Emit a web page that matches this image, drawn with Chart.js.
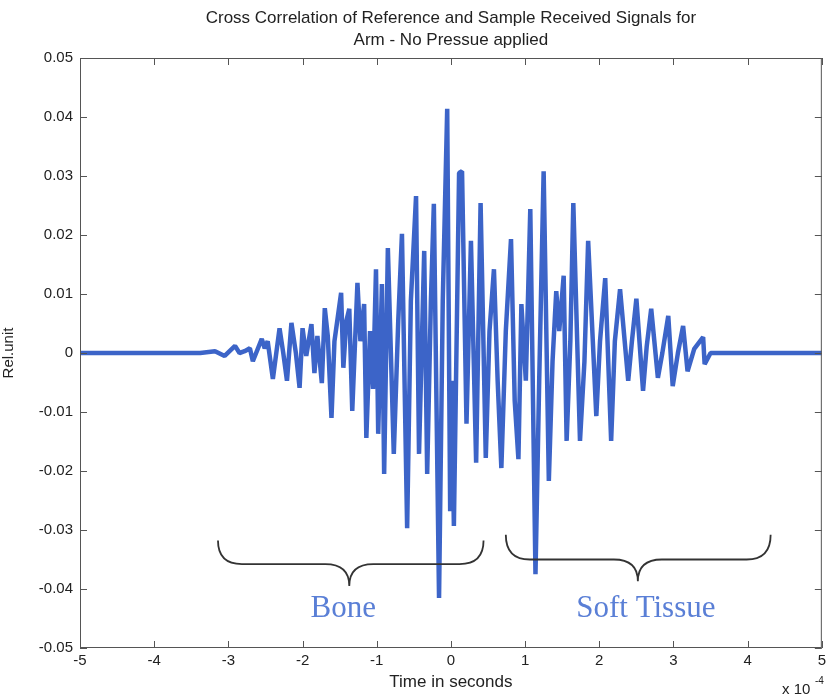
<!DOCTYPE html>
<html lang="en">
<head>
  <meta charset="UTF-8">
  <title>Cross Correlation</title>
  <script src="https://cdn.jsdelivr.net/npm/chart.js@4/dist/chart.umd.min.js"></script>
  <style>
    body { margin: 0; background: #fff; }
  </style>
</head>
<body>
  <canvas id="xcorr" width="830" height="698"></canvas>

  <script>
    // time axis in units of 1e-4 s, signal in relative units (peaks and troughs)
    const times = [
      -5.00, -3.38, -3.18, -3.05, -2.91, -2.85, -2.78, -2.71, -2.67, -2.55,
      -2.51, -2.47, -2.40, -2.31, -2.26, -2.21, -2.15, -2.09, -2.04, -2.00,
      -1.95, -1.88, -1.84, -1.80, -1.74, -1.70, -1.66, -1.61, -1.57, -1.48,
      -1.45, -1.41, -1.37, -1.33, -1.26, -1.22, -1.17, -1.14, -1.09, -1.05,
      -1.01, -0.98, -0.93, -0.90, -0.85, -0.77, -0.71, -0.66, -0.59, -0.54,
      -0.47, -0.43, -0.36, -0.32, -0.27, -0.23, -0.16, -0.11, -0.05, -0.01,
      0.01, 0.04, 0.11, 0.15, 0.21, 0.27, 0.34, 0.40, 0.47, 0.52,
      0.58, 0.63, 0.68, 0.74, 0.81, 0.86, 0.91, 0.95, 1.01, 1.07,
      1.14, 1.19, 1.25, 1.32, 1.37, 1.42, 1.46, 1.52, 1.56, 1.61,
      1.65, 1.74, 1.80, 1.85, 1.96, 2.01, 2.08, 2.16, 2.21, 2.28,
      2.39, 2.44, 2.50, 2.59, 2.64, 2.70, 2.79, 2.85, 2.93, 2.99,
      3.06, 3.13, 3.19, 3.28, 3.40, 3.42, 3.50, 5.00
    ];
    const relUnit = [
      0, 0, 0.0003, -0.0005, 0.0012, 0, 0.0003, 0.0008, -0.0014, 0.0024,
      0.0008, 0.0020, -0.0044, 0.0042, 0, -0.0047, 0.0051, 0, -0.0059, 0.0042,
      -0.0005, 0.0049, -0.0034, 0.0029, -0.0051, 0.0076, 0.0029, -0.0110, 0.0020, 0.0102,
      -0.0025, 0.0054, 0.0075, -0.0098, 0.0119, 0.0020, 0.0083, -0.0144, 0.0037, -0.0061,
      0.0142, -0.0137, 0.0117, -0.0205, 0.0178, -0.0171, 0.0054, 0.0202, -0.0297, 0.0088,
      0.0266, -0.0171, 0.0173, -0.0205, 0.0088, 0.0253, -0.0415, 0.0088, 0.0414, -0.0268,
      -0.0047, -0.0293, 0.0305, 0.0308, -0.0120, 0.0190, -0.0186, 0.0254, -0.0178, 0.0037,
      0.0142, -0.0047, -0.0195, 0.0037, 0.0193, -0.0081, -0.0180, 0.0083, -0.0047, 0.0244,
      -0.0375, -0.0047, 0.0308, -0.0217, -0.0014, 0.0105, 0.0037, 0.0131, -0.0149, 0.0020,
      0.0254, -0.0149, -0.0014, 0.0190, -0.0107, 0.0020, 0.0127, -0.0149, 0.0020, 0.0108,
      -0.0047, 0.0020, 0.0092, -0.0064, 0.0012, 0.0075, -0.0042, 0, 0.0063, -0.0056,
      0, 0.0046, -0.0031, 0.0007, 0.0027, -0.0019, 0, 0
    ];

    const xTicks = [-5, -4, -3, -2, -1, 0, 1, 2, 3, 4, 5];
    const yTicks = [0.05, 0.04, 0.03, 0.02, 0.01, 0, -0.01, -0.02, -0.03, -0.04, -0.05];

    // brace annotations: [label, start, tip, end] on the time axis
    const regions = [
      ['Bone', -3.14, -1.37, 0.44],
      ['Soft Tissue', 0.74, 2.52, 4.31]
    ];

    const titleLines = [
      'Cross Correlation of Reference and Sample Received Signals for',
      'Arm - No Pressue applied'
    ];

    const points = times.map((t, i) => ({ x: t, y: relUnit[i] }));

    const fmtY = v => Math.abs(v) < 1e-9 ? '0' : v.toFixed(2);
    const sans = '"Liberation Sans", Arial, sans-serif';

    const matlabAxes = {
      id: 'matlabAxes',
      afterDraw(chart) {
        const ctx = chart.ctx;
        const { left, right, top, bottom } = chart.chartArea;
        const xs = chart.scales.x, ys = chart.scales.y;
        ctx.save();

        // box + inward ticks
        ctx.strokeStyle = '#555';
        ctx.lineWidth = 1;
        ctx.strokeRect(left + 0.5, top + 0.5, right - left - 1, bottom - top - 1);
        ctx.beginPath();
        xTicks.forEach(v => {
          const p = Math.round(xs.getPixelForValue(v)) + 0.5;
          ctx.moveTo(p, bottom); ctx.lineTo(p, bottom - 7);
          ctx.moveTo(p, top); ctx.lineTo(p, top + 7);
        });
        yTicks.forEach(v => {
          const p = Math.round(ys.getPixelForValue(v)) + 0.5;
          ctx.moveTo(left, p); ctx.lineTo(left + 7, p);
          ctx.moveTo(right, p); ctx.lineTo(right - 7, p);
        });
        ctx.stroke();

        // title
        ctx.fillStyle = '#222';
        ctx.font = '17px ' + sans;
        ctx.textAlign = 'center';
        ctx.textBaseline = 'middle';
        const cx = (left + right) / 2;
        ctx.fillText(titleLines[0], cx, 18);
        ctx.fillText(titleLines[1], cx, 40);

        // exponent note
        ctx.textAlign = 'left';
        ctx.font = '15px ' + sans;
        ctx.fillText('x 10', 782, 690);
        ctx.font = '10px ' + sans;
        ctx.fillText('-4', 815, 681);

        // braces and region labels
        regions.forEach(([label, a, tip, b], i) => {
          const x0 = xs.getPixelForValue(a);
          const xt = xs.getPixelForValue(tip);
          const x1 = xs.getPixelForValue(b);
          const yEnd = ys.getPixelForValue(i === 0 ? -0.0318 : -0.0308);
          const yMid = ys.getPixelForValue(i === 0 ? -0.0358 : -0.0350);
          const yTip = ys.getPixelForValue(i === 0 ? -0.0395 : -0.0387);
          const r = 24;
          ctx.strokeStyle = '#333';
          ctx.lineWidth = 1.8;
          ctx.beginPath();
          ctx.moveTo(x0, yEnd);
          ctx.quadraticCurveTo(x0, yMid, x0 + r, yMid);
          ctx.lineTo(xt - r, yMid);
          ctx.quadraticCurveTo(xt, yMid, xt, yTip);
          ctx.quadraticCurveTo(xt, yMid, xt + r, yMid);
          ctx.lineTo(x1 - r, yMid);
          ctx.quadraticCurveTo(x1, yMid, x1, yEnd);
          ctx.stroke();

          ctx.fillStyle = '#5a7fd6';
          ctx.font = '31px "Liberation Serif", "Times New Roman", serif';
          ctx.textAlign = 'center';
          ctx.textBaseline = 'alphabetic';
          ctx.fillText(label, xt - 6 + i * 14, ys.getPixelForValue(-0.0447));
        });
        ctx.restore();
      }
    };

    new Chart('xcorr', {
      type: 'line',
      data: {
        datasets: [{
          data: points,
          borderColor: '#3c64c8',
          borderWidth: 4.5,
          borderJoinStyle: 'bevel',
          pointRadius: 0,
          tension: 0,
          fill: false
        }]
      },
      options: {
        responsive: false,
        animation: false,
        layout: { padding: { top: 58, right: 5, left: 0, bottom: 0 } },
        plugins: { legend: { display: false }, tooltip: { enabled: false } },
        scales: {
          x: {
            type: 'linear',
            min: -5, max: 5,
            afterFit: s => { s.height = 50; },
            afterBuildTicks: s => { s.ticks = xTicks.map(v => ({ value: v })); },
            grid: { display: false, drawTicks: false },
            border: { display: false },
            ticks: { color: '#222', padding: 4, font: { size: 15, family: sans }, maxRotation: 0 },
            title: { display: true, text: 'Time in seconds', color: '#222', padding: { top: 0, bottom: 5 }, font: { size: 17, family: sans } }
          },
          y: {
            min: -0.05, max: 0.05,
            afterFit: s => { s.width = 80; },
            afterBuildTicks: s => { s.ticks = yTicks.map(v => ({ value: v })); },
            grid: { display: false, drawTicks: false },
            border: { display: false },
            ticks: { color: '#222', padding: 7, callback: fmtY, font: { size: 15, family: sans } },
            title: { display: true, text: 'Rel.unit', color: '#222', padding: { top: 0, bottom: 0 }, font: { size: 15, family: sans } }
          }
        }
      },
      plugins: [matlabAxes]
    });
  </script>
</body>
</html>
